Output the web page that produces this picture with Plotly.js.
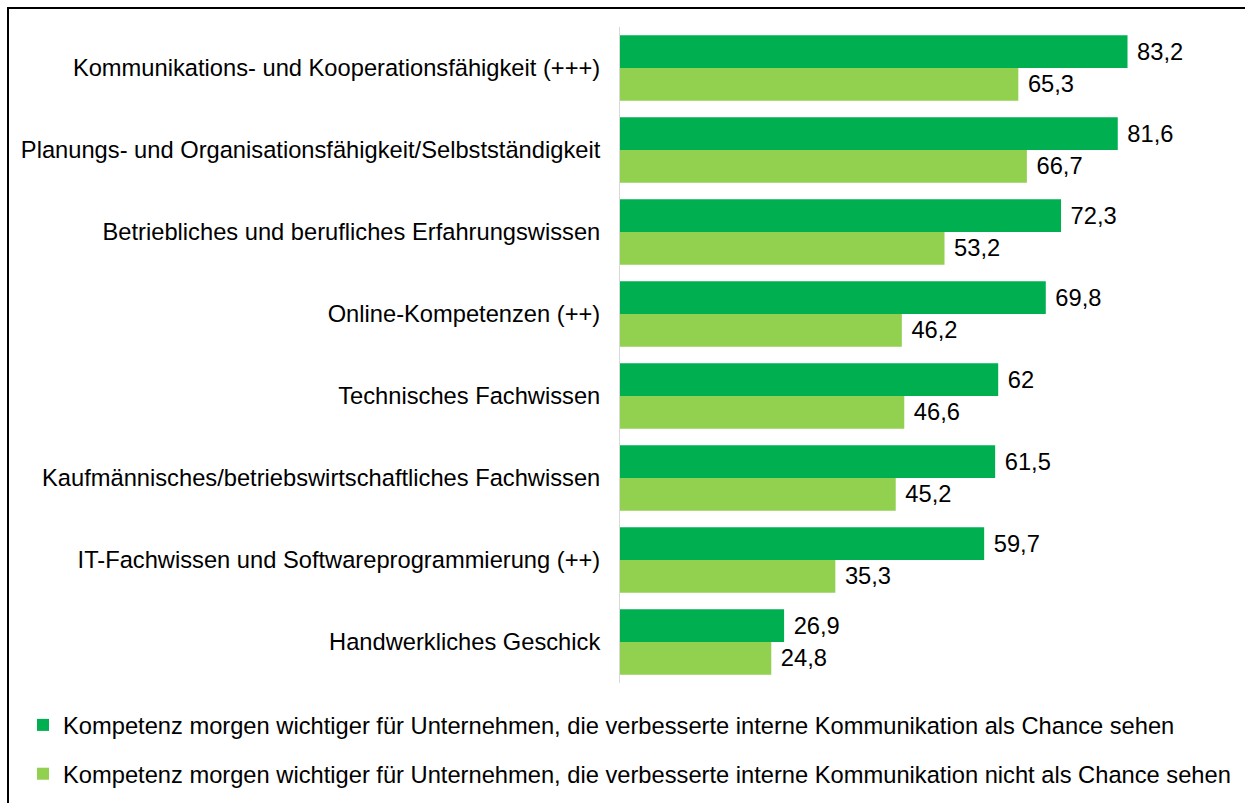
<!DOCTYPE html>
<html>
<head>
<meta charset="utf-8">
<script src="https://cdn.plot.ly/plotly-3.0.1.min.js"></script>
<style>
  html, body { margin: 0; padding: 0; overflow: hidden; background: #fff; }
  #chart { width: 1245px; height: 803px; }
  #frame { position: absolute; left: 7px; top: 7px; width: 1400px; height: 1000px; border: 2px solid #000; pointer-events: none; }
</style>
</head>
<body>
<div id="chart"></div>
<div id="frame"></div>
<script>
const categories = [
  "Kommunikations- und Kooperationsfähigkeit (+++)",
  "Planungs- und Organisationsfähigkeit/Selbstständigkeit",
  "Betriebliches und berufliches Erfahrungswissen",
  "Online-Kompetenzen (++)",
  "Technisches Fachwissen",
  "Kaufmännisches/betriebswirtschaftliches Fachwissen",
  "IT-Fachwissen und Softwareprogrammierung (++)",
  "Handwerkliches Geschick"
];
const chanceValues = [83.2, 81.6, 72.3, 69.8, 62, 61.5, 59.7, 26.9];
const noChanceValues = [65.3, 66.7, 53.2, 46.2, 46.6, 45.2, 35.3, 24.8];
const seriesNames = [
  "Kompetenz morgen wichtiger für Unternehmen, die verbesserte interne Kommunikation als Chance sehen",
  "Kompetenz morgen wichtiger für Unternehmen, die verbesserte interne Kommunikation nicht als Chance sehen"
];

const fmt = v => "\u00a0" + String(v).replace(".", ",");
const FONT = "Liberation Sans, Arial, sans-serif";
const FS = 23.7;

const traces = [
  {
    type: "bar", orientation: "h", name: seriesNames[0],
    y: categories, x: chanceValues,
    text: chanceValues.map(fmt), textposition: "outside", cliponaxis: false,
    textfont: { family: FONT, size: FS, color: "#000" },
    marker: { color: "#00B050" },
    legendgroup: "a", hoverinfo: "x+y"
  },
  {
    type: "bar", orientation: "h", name: seriesNames[1],
    y: categories, x: noChanceValues,
    text: noChanceValues.map(fmt), textposition: "outside", cliponaxis: false,
    textfont: { family: FONT, size: FS, color: "#000" },
    marker: { color: "#92D050" },
    legendgroup: "b", hoverinfo: "x+y"
  }
];

const layout = {
  width: 1245, height: 803,
  margin: { l: 620, r: 15, t: 27, b: 120, autoexpand: false },
  paper_bgcolor: "#fff", plot_bgcolor: "#fff",
  font: { family: FONT, size: FS, color: "#000" },
  barmode: "group",
  bargap: 0.2, bargroupgap: 0,
  showlegend: true,
  legend: {
    xref: "container", yref: "container",
    x: 23 / 1245, xanchor: "left",
    y: 1 - 703 / 803, yanchor: "top",
    orientation: "v", traceorder: "grouped", tracegroupgap: 15,
    itemwidth: 30,
    font: { family: FONT, size: FS, color: "#000" },
    bgcolor: "rgba(0,0,0,0)"
  },
  xaxis: {
    range: [0, 100], visible: false, showgrid: false, zeroline: false, fixedrange: true
  },
  yaxis: {
    autorange: "reversed", type: "category",
    showline: true, linecolor: "#d9d9d9", linewidth: 1,
    ticks: "", showgrid: false, ticklabelstandoff: 14,
    tickfont: { family: FONT, size: FS, color: "#000" },
    fixedrange: true
  }
};

Plotly.newPlot("chart", traces, layout, { displayModeBar: false, staticPlot: true });
</script>
</body>
</html>
